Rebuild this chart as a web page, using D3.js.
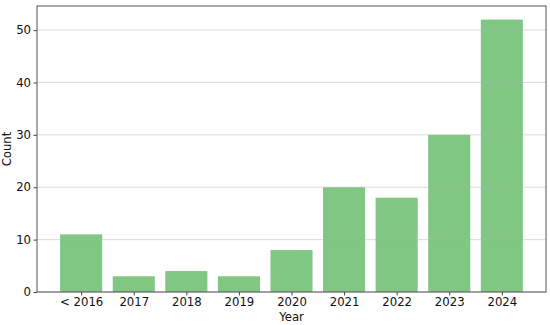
<!DOCTYPE html>
<html>
<head>
<meta charset="utf-8">
<script src="https://cdn.jsdelivr.net/npm/d3@7"></script>
<style>
  body { margin: 0; background: #fff; }
  text { font-family: "DejaVu Sans", sans-serif; fill: #111; }
</style>
</head>
<body>
<div id="chart"></div>
<script>
// bar data
const years = ["< 2016", "2017", "2018", "2019", "2020", "2021", "2022", "2023", "2024"];
const counts = [11, 3, 4, 3, 8, 20, 18, 30, 52];
const yTicks = [0, 10, 20, 30, 40, 50];

const W = 550, H = 325;
const margin = {top: 6, right: 4, bottom: 33, left: 37};
const width = W - margin.left - margin.right;
const height = H - margin.top - margin.bottom;
const fontSize = "11.7px";

const svg = d3.select("#chart").append("svg")
    .attr("width", W)
    .attr("height", H);

const g = svg.append("g")
    .attr("transform", `translate(${margin.left},${margin.top})`);

// matplotlib-like margins: bars 0.8 wide, 5% padding
const x = d3.scaleLinear()
    .domain([-0.84, years.length - 1 + 0.84])
    .range([0, width]);

const y = d3.scaleLinear()
    .domain([0, d3.max(counts) * 1.05])
    .range([height, 0]);

g.selectAll("rect.bar")
    .data(counts)
    .enter().append("rect")
    .attr("class", "bar")
    .attr("x", (d, i) => x(i - 0.4))
    .attr("width", x(0.8) - x(0))
    .attr("y", d => y(d))
    .attr("height", d => y(0) - y(d))
    .style("fill", "#81c784");

// grid on top, faint
g.selectAll("line.grid")
    .data(yTicks)
    .enter().append("line")
    .attr("class", "grid")
    .attr("x1", 0)
    .attr("x2", width)
    .attr("y1", d => y(d))
    .attr("y2", d => y(d))
    .style("stroke", "#b0b0b0")
    .style("stroke-opacity", 0.45)
    .style("stroke-width", 1);

const xAxis = g.append("g")
    .attr("transform", `translate(0,${height})`)
    .call(d3.axisBottom(x)
        .tickValues(d3.range(years.length))
        .tickFormat(i => years[i])
        .tickSize(3.5)
        .tickPadding(2.5));

const yAxis = g.append("g")
    .call(d3.axisLeft(y)
        .tickValues(yTicks)
        .tickSize(3.5)
        .tickPadding(2.5));

[xAxis, yAxis].forEach(a => {
    a.select(".domain").remove();
    a.selectAll("line").style("stroke", "#444");
    a.selectAll("text").style("font-size", fontSize).style("fill", "#111");
});

// frame
g.append("rect")
    .attr("width", width)
    .attr("height", height)
    .style("fill", "none")
    .style("stroke", "#555")
    .style("stroke-width", 1);

g.append("text")
    .attr("x", width / 2)
    .attr("y", height + 29)
    .attr("text-anchor", "middle")
    .style("font-size", fontSize)
    .text("Year");

g.append("text")
    .attr("transform", `translate(${-26.5},${height / 2}) rotate(-90)`)
    .attr("text-anchor", "middle")
    .style("font-size", fontSize)
    .text("Count");
</script>
</body>
</html>
